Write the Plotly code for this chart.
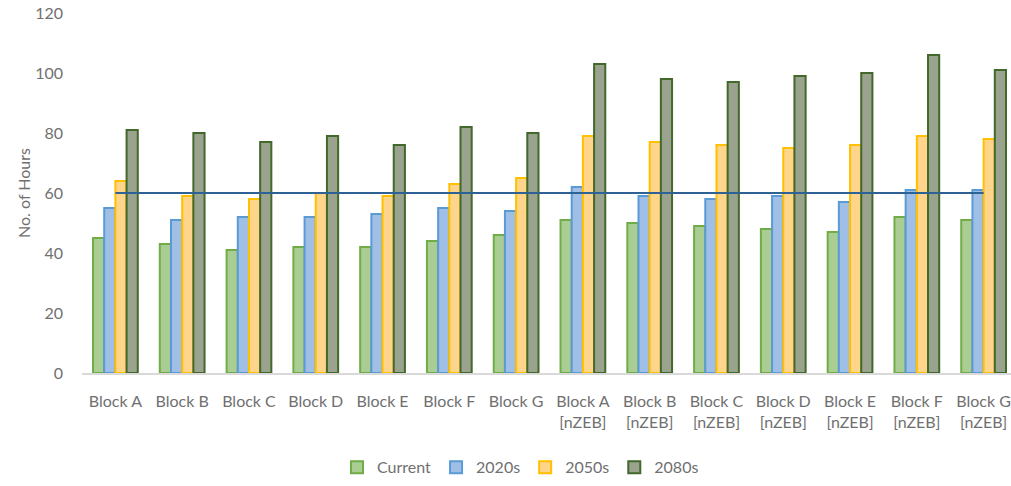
import plotly.graph_objects as go

categories = ["Block A", "Block B", "Block C", "Block D", "Block E", "Block F", "Block G",
              "Block A<br>[nZEB]", "Block B<br>[nZEB]", "Block C<br>[nZEB]", "Block D<br>[nZEB]",
              "Block E<br>[nZEB]", "Block F<br>[nZEB]", "Block G<br>[nZEB]"]

current = [45, 43, 41, 42, 42, 44, 46, 51, 50, 49, 48, 47, 52, 51]
s2020 = [55, 51, 52, 52, 53, 55, 54, 62, 59, 58, 59, 57, 61, 61]
s2050 = [64, 59, 58, 60, 59, 63, 65, 79, 77, 76, 75, 76, 79, 78]
s2080 = [81, 80, 77, 79, 76, 82, 80, 103, 98, 97, 99, 100, 106, 101]
threshold = [60] * len(categories)

series = [
    ("Current", current, "#a9cd93", "#70ad47"),
    ("2020s", s2020, "#a0bfe6", "#5b9bd5"),
    ("2050s", s2050, "#ffd48b", "#ffc000"),
    ("2080s", s2080, "#9aa38d", "#43682b"),
]

fig = go.Figure()
for name, vals, fill, edge in series:
    fig.add_trace(go.Bar(
        x=categories, y=vals, name=name,
        marker=dict(color=fill, line=dict(color=edge, width=2)),
    ))

fig.add_trace(go.Scatter(
    x=categories, y=threshold, mode="lines", showlegend=False,
    line=dict(color="#2e6295", width=2),
))

font_family = "Lato, 'Open Sans', sans-serif"
text_color = "#707070"
fig.update_layout(
    width=1011, height=486,
    margin=dict(l=82, r=0, t=13, b=113),
    paper_bgcolor="white", plot_bgcolor="white",
    barmode="group", bargap=0.33, bargroupgap=0,
    font=dict(family=font_family, size=16, color=text_color),
    legend=dict(orientation="h", x=0.472, xanchor="center", y=-0.262, yanchor="middle",
                font=dict(size=16, color=text_color), itemwidth=30, traceorder="normal"),
    xaxis=dict(
        range=[-0.5, 13.41], showline=True, linecolor="#d9d9d9", linewidth=2,
        ticks="", showgrid=False, ticklabelstandoff=13,
        tickfont=dict(size=16, color=text_color),
    ),
    yaxis=dict(
        range=[0, 120], tick0=0, dtick=20, showgrid=False, zeroline=False,
        showline=False, ticks="", ticklabelstandoff=18,
        tickfont=dict(size=16, color=text_color),
        title=dict(text="No. of Hours", font=dict(size=16, color=text_color), standoff=0),
    ),
)

fig.write_html("out.html")
